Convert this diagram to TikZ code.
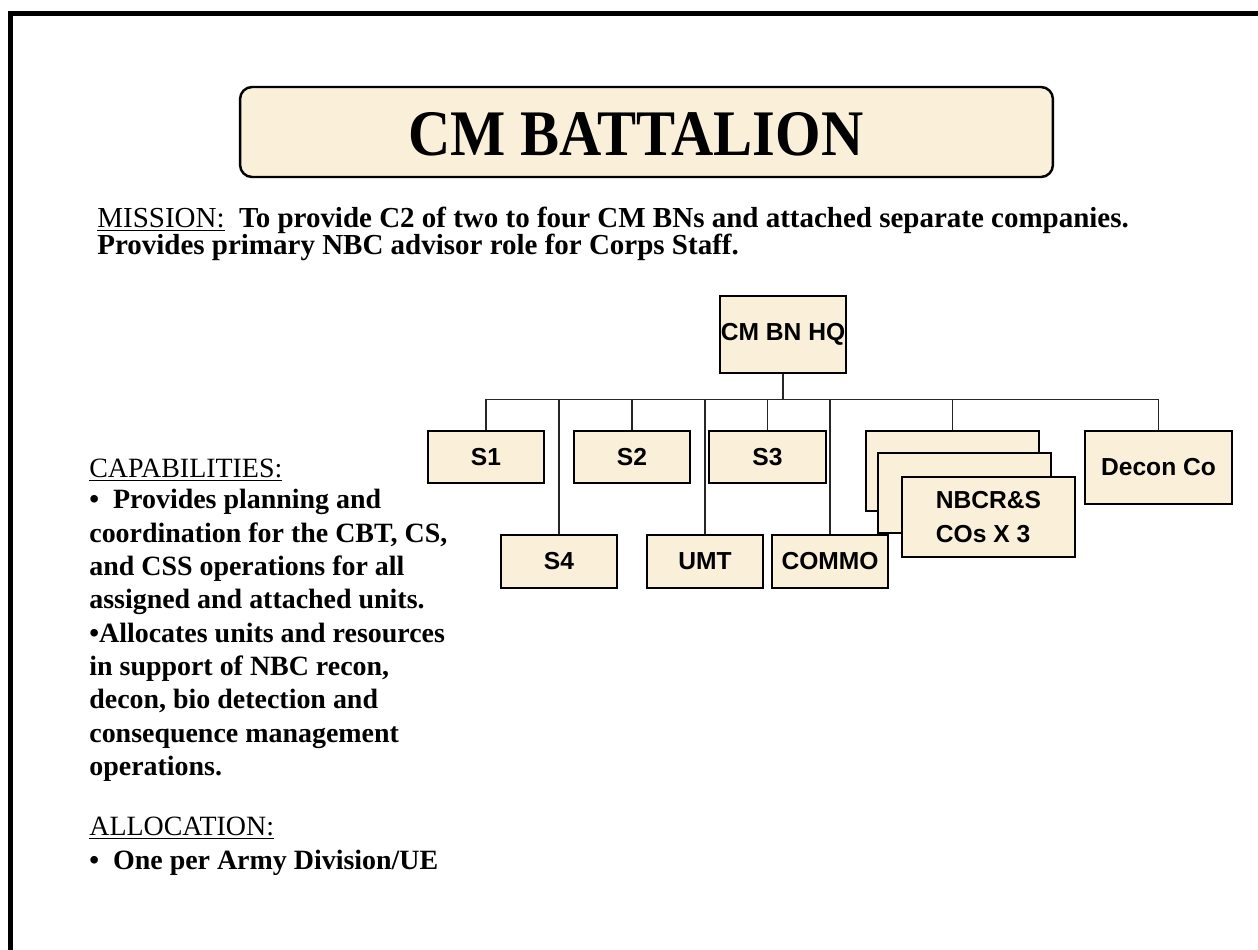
\documentclass[tikz,border=0pt]{standalone}
\usepackage{graphicx}
\usepackage{fontspec}
\setmainfont{Liberation Serif}
\newfontfamily\chartfont{Liberation Sans}
\definecolor{parch}{RGB}{250,240,218}

\begin{document}
\begin{tikzpicture}[x=0.02cm, y=-0.02cm,
        unit/.style={draw, fill=parch, line width=1.3pt, inner sep=0pt,
            font=\chartfont\bfseries\fontsize{14}{16}\selectfont},
        link/.style={line width=0.6pt, black!85},
        body/.style={anchor=base west, inner sep=0pt,
            font=\bfseries\fontsize{15.9}{18.8}\selectfont}]

        % ==== PAGE ====
        \useasboundingbox (0,0) rectangle (1258,950);
        \draw[line width=0.1cm] (10.5,950) -- (10.5,13.5) -- (1258,13.5);

        % ==== TITLE ====
        \node[draw, fill=parch, line width=1.4pt, rounded corners=0.24cm,
            minimum width=16.26cm, minimum height=1.8cm] (banner) at (646.5,132) {};
        \node (title) at (636,134)
            {\scalebox{0.9}[1]{\fontsize{37}{40}\selectfont\bfseries CM BATTALION}};

        % ==== MISSION ====
        \node[body, align=left, font=\bfseries\fontsize{16.5}{15.3}\selectfont] (mission) at (97,254)
            {\mdseries\underline{MISSION:}\bfseries\ \ To provide C2 of two to four CM BNs and attached separate companies.\\
             Provides primary NBC advisor role for Corps Staff.};

        % ==== CAPABILITIES ====
        \node[body] (caphead) at (89,477) {\mdseries\underline{CAPABILITIES:}};
        \foreach \i/\y/\t in {1/508/{\textbullet\ \ Provides planning and},
                2/542/{coordination for the CBT, CS,},
                3/575/{and CSS operations for all},
                4/608/{assigned and attached units.},
                5/642/{\textbullet Allocates units and resources},
                6/675/{in support of NBC recon,},
                7/708/{decon, bio detection and},
                8/742/{consequence management},
                9/775/{operations.}}
            \node[body] (cap\i) at (89,\y) {\t};

        % ==== ALLOCATION ====
        \node[body] (allochead) at (89,835) {\mdseries\underline{ALLOCATION:}};
        \node[body] (alloc) at (89,869) {\textbullet\ \ One per Army Division/UE};

        % ==== HQ ====
        \node[unit, minimum width=2.52cm, minimum height=1.54cm] (hq) at (783,334.5) {CM BN HQ};

        % ==== STAFF, TOP ROW ====
        \node[unit, minimum width=2.32cm, minimum height=1.04cm] (s1) at (486,457) {S1};
        \node[unit, minimum width=2.32cm, minimum height=1.04cm] (s2) at (632,457) {S2};
        \node[unit, minimum width=2.34cm, minimum height=1.04cm] (s3) at (767.5,457) {S3};

        % ==== STAFF, BOTTOM ROW ====
        \node[unit, minimum width=2.32cm, minimum height=1.06cm] (s4) at (559,561.5) {S4};
        \node[unit, minimum width=2.32cm, minimum height=1.06cm] (umt) at (705,561.5) {UMT};
        \node[unit, minimum width=2.32cm, minimum height=1.06cm] (commo) at (830,561.5) {COMMO};

        % ==== NBCR&S COMPANIES (stack of 3) ====
        \node[unit, minimum width=3.46cm, minimum height=1.6cm] (nbcA) at (952.5,471) {};
        \node[unit, minimum width=3.46cm, minimum height=1.6cm] (nbcB) at (964.5,493) {};
        \node[unit, minimum width=3.46cm, minimum height=1.6cm, align=left] (nbcC) at (988.5,517)
            {NBCR\&S\\[3pt]COs X 3};

        % ==== DECON ====
        \node[unit, minimum width=2.94cm, minimum height=1.46cm] (decon) at (1158.5,467.5) {Decon Co};

        % ==== LINKS ====
        \path (hq.south) ++(0,25) coordinate (bus);
        \draw[link] (hq.south) -- (bus);
        \foreach \n in {s1,s2,s3,s4,umt,commo,nbcA,decon}
            \draw[link] (bus) -| (\n.north);
    \end{tikzpicture}
\end{document}
